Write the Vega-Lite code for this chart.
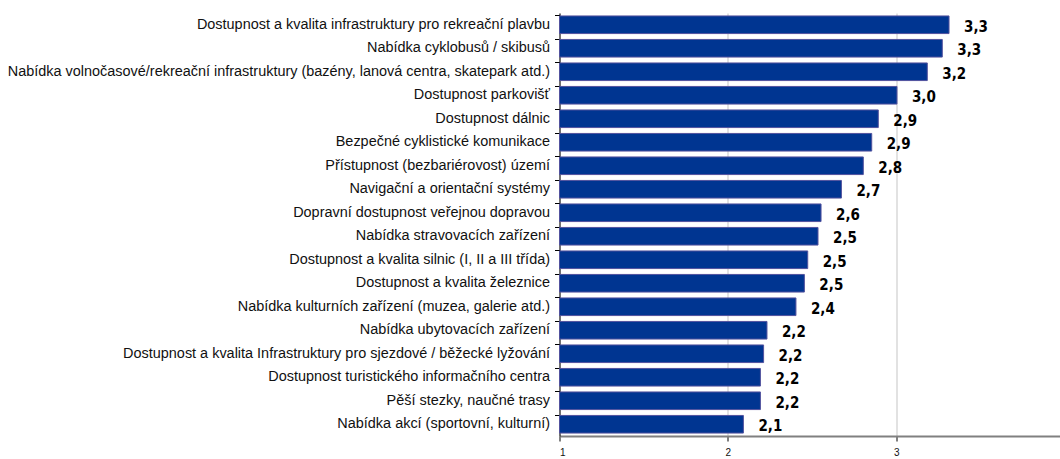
{
  "$schema": "https://vega.github.io/schema/vega-lite/v6.json",
  "autosize": "none",
  "width": 500.5,
  "height": 423,
  "padding": {"left": 559.5, "top": 13, "right": 0, "bottom": 23},
  "background": "white",
  "config": {
    "view": {"stroke": null},
    "locale": {"number": {"decimal": ",", "thousands": " ", "grouping": [3], "currency": ["", " Kč"]}},
    "font": "Liberation Sans"
  },
  "data": {
    "values": [
      {"kategorie": "Dostupnost a kvalita infrastruktury pro rekreační plavbu", "hodnota": 3.313},
      {"kategorie": "Nabídka cyklobusů / skibusů", "hodnota": 3.273},
      {"kategorie": "Nabídka volnočasové/rekreační infrastruktury (bazény, lanová centra, skatepark atd.)", "hodnota": 3.184},
      {"kategorie": "Dostupnost parkovišť", "hodnota": 3.004},
      {"kategorie": "Dostupnost dálnic", "hodnota": 2.893},
      {"kategorie": "Bezpečné cyklistické komunikace", "hodnota": 2.854},
      {"kategorie": "Přístupnost (bezbariérovost) území", "hodnota": 2.804},
      {"kategorie": "Navigační a orientační systémy", "hodnota": 2.674},
      {"kategorie": "Dopravní dostupnost veřejnou dopravou", "hodnota": 2.553},
      {"kategorie": "Nabídka stravovacích zařízení", "hodnota": 2.535},
      {"kategorie": "Dostupnost a kvalita silnic (I, II a III třída)", "hodnota": 2.474},
      {"kategorie": "Dostupnost a kvalita železnice", "hodnota": 2.454},
      {"kategorie": "Nabídka kulturních zařízení (muzea, galerie atd.)", "hodnota": 2.404},
      {"kategorie": "Nabídka ubytovacích zařízení", "hodnota": 2.232},
      {"kategorie": "Dostupnost a kvalita Infrastruktury pro sjezdové / běžecké lyžování", "hodnota": 2.212},
      {"kategorie": "Dostupnost turistického informačního centra", "hodnota": 2.193},
      {"kategorie": "Pěší stezky, naučné trasy", "hodnota": 2.193},
      {"kategorie": "Nabídka akcí (sportovní, kulturní)", "hodnota": 2.092}
    ]
  },
  "encoding": {
    "y": {
      "field": "kategorie",
      "type": "nominal",
      "sort": null,
      "scale": {"paddingInner": 0.25, "paddingOuter": 0.125},
      "axis": {
        "title": null,
        "labelFont": "Liberation Sans",
        "labelFontSize": 14.45,
        "labelColor": "#111111",
        "labelPadding": 5,
        "labelLimit": 600,
        "domainColor": "#000000",
        "domainWidth": 1,
        "tickColor": "#000000",
        "tickSize": 5,
        "bandPosition": 0,
        "grid": false
      }
    },
    "x": {
      "field": "hodnota",
      "type": "quantitative",
      "scale": {"domain": [1, 3.972], "nice": false, "zero": false},
      "axis": {
        "title": null,
        "values": [1, 2, 3],
        "format": "d",
        "labelFont": "Liberation Sans",
        "labelFontSize": 10,
        "labelColor": "#111111",
        "labelPadding": 6,
        "domainColor": "#808080",
        "domainWidth": 2,
        "tickColor": "#000000",
        "tickSize": 5,
        "grid": true,
        "gridColor": "#d9d9d9",
        "gridWidth": 1.5
      }
    }
  },
  "layer": [
    {
      "mark": {"type": "bar", "color": "#003591", "stroke": "#52529e", "strokeWidth": 1},
      "encoding": {"x2": {"datum": 1}}
    },
    {
      "mark": {"type": "text", "align": "left", "baseline": "middle", "dx": 15, "dy": 2, "font": "DejaVu Sans Condensed", "fontWeight": "bold", "fontSize": 15, "color": "#000000"},
      "encoding": {"text": {"field": "hodnota", "type": "quantitative", "format": ".1f"}}
    }
  ]
}
